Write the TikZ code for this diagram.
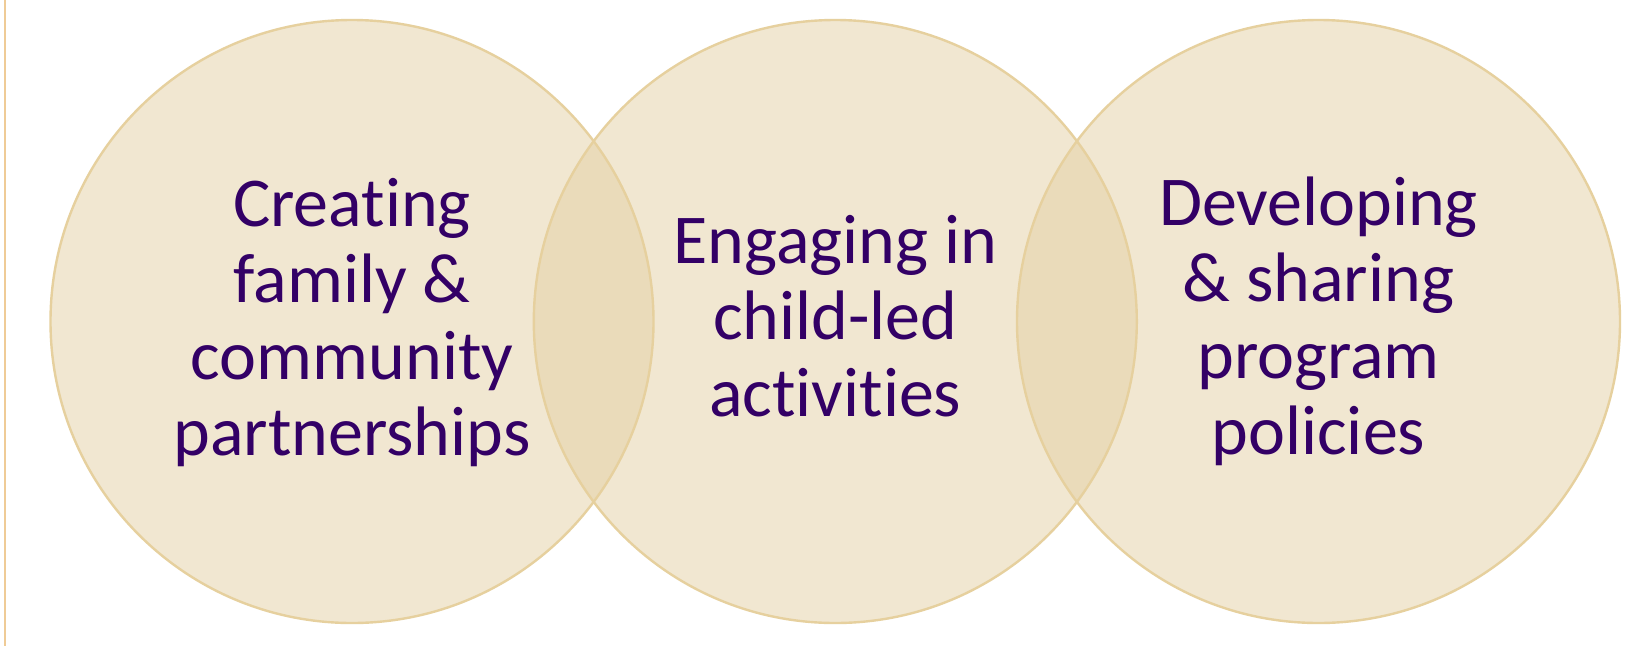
\documentclass[tikz,border=0pt]{standalone}
\usepackage{fontspec}
\setmainfont{Carlito}[Ligatures={NoCommon}]
\usepackage{array}
\definecolor{circfill}{HTML}{E5D1A5}
\definecolor{circline}{HTML}{E6D09E}
\definecolor{txtcol}{HTML}{330066}
\definecolor{sideline}{HTML}{EFCB96}
\tikzset{
  venn/.style={circle, minimum size=603pt, inner sep=0pt, outer sep=0pt},
  vennfill/.style={venn, fill=circfill, fill opacity=0.5},
  vennline/.style={venn, draw=circline, line width=2.4pt},
  label/.style={anchor=base, inner sep=0pt, text=txtcol,
    font=\fontsize{70}{76.5}\selectfont}
}
\newcommand{\lines}[1]{\setlength{\tabcolsep}{0pt}\begin{tabular}[t]{c}#1\end{tabular}}
\begin{document}
\begin{tikzpicture}[x=1pt,y=-1pt]
\useasboundingbox (0,0) rectangle (1627,646);
\fill[white] (0,0) rectangle (1627,646);
\draw[sideline, line width=1.5pt] (5,0) -- (5,646);
\node[vennfill] (fa) at (352,321.5) {};
\node[vennfill] (fb) at (835.3,321.5) {};
\node[vennfill] (fc) at (1318.5,321.5) {};
\node[vennline] (ca) at (352,321.5) {};
\node[vennline] (cb) at (835.3,321.5) {};
\node[vennline] (cc) at (1318.5,321.5) {};
\node[label] (ta) at (352,226) {\lines{Creating\\family \&\\community\\partnerships}};
\node[label] (tb) at (835.3,263) {\lines{Engaging in\\child-led\\activities}};
\node[label] (tc) at (1318.5,225) {\lines{Developing\\\& sharing\\program\\policies}};
\end{tikzpicture}
\end{document}
